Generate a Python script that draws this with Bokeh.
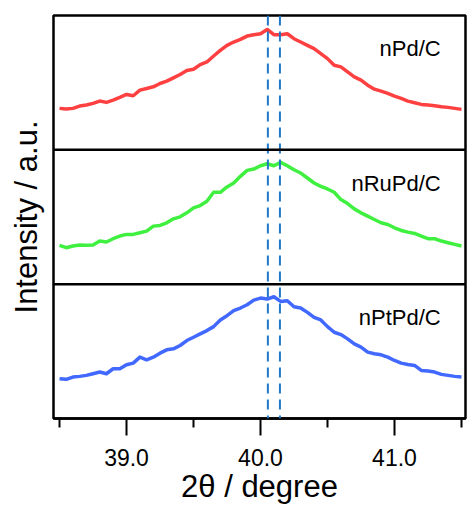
import numpy as np
from bokeh.plotting import figure
from bokeh.models import Range1d, FixedTicker, Span, PrintfTickFormatter, ColumnDataSource
from bokeh.core.properties import value
from bokeh.embed import file_html
from bokeh.resources import INLINE

# ---- data ----
two_theta = [round(38.5 + 0.05 * i, 2) for i in range(61)]

npd_c = [125, 123, 125, 132, 135, 140, 147, 143, 150, 158,
         167, 163, 180, 185, 190, 200, 207, 217, 227, 239,
         243, 257, 265, 283, 300, 315, 325, 333, 343, 347,
         350, 363, 347, 347, 350, 335, 325, 315, 305, 290,
         275, 255, 250, 235, 220, 210, 195, 183, 177, 170,
         162, 155, 147, 142, 137, 135, 133, 130, 128, 125, 122]

nrupd_c = [117, 110, 115, 118, 117, 118, 130, 127, 137, 145,
           150, 150, 155, 160, 175, 177, 185, 197, 203, 215,
           230, 237, 250, 277, 277, 293, 305, 325, 343, 347,
           357, 363, 357, 367, 357, 345, 335, 320, 305, 295,
           287, 277, 255, 243, 227, 215, 205, 195, 185, 180,
           170, 162, 157, 153, 145, 137, 137, 130, 125, 120, 115]

nptpd_c = [120, 118, 125, 127, 130, 135, 140, 135, 150, 150,
           162, 167, 185, 177, 185, 197, 207, 210, 220, 235,
           245, 255, 265, 277, 297, 310, 325, 333, 343, 357,
           363, 360, 367, 353, 355, 337, 333, 320, 305, 297,
           277, 260, 253, 240, 225, 215, 200, 195, 192, 185,
           175, 167, 163, 160, 145, 143, 140, 133, 130, 127, 125]

series_names = ["nPd/C", "nRuPd/C", "nPtPd/C"]
series_values = [npd_c, nrupd_c, nptpd_c]
series_colors = ["#ff4040", "#40f040", "#4169ff"]
peak_positions = [40.055, 40.145]
major_ticks = [39.0, 40.0, 41.0]
minor_ticks = [38.5, 39.5, 40.5, 41.5]

PANEL = 405.0
FONT = "Liberation Sans"

p = figure(width=467, height=506, output_backend="svg", toolbar_location=None,
           x_range=Range1d(38.455, 41.53), y_range=Range1d(0, 3 * PANEL),
           min_border_left=53, min_border_right=2, min_border_top=15, min_border_bottom=10)
p.xgrid.visible = False
p.ygrid.visible = False
p.outline_line_color = "black"
p.outline_line_width = 2.5
p.background_fill_color = "white"
p.border_fill_color = "white"

for pos in peak_positions:
    p.add_layout(Span(location=pos, dimension="height", line_color="#1f78c8",
                      line_width=2, line_dash="10 6"))

for k in (1, 2):
    p.add_layout(Span(location=k * PANEL, dimension="width", line_color="black",
                      line_width=2.5))

n = len(series_values)
for i, (name, vals, col) in enumerate(zip(series_names, series_values, series_colors)):
    off = (n - 1 - i) * PANEL
    src = ColumnDataSource(dict(x=two_theta, y=[v + off for v in vals]))
    p.line("x", "y", source=src, line_color=col, line_width=3.5, line_join="round")
    p.text(x=[41.345], y=[off + PANEL - 100], text=[name], text_align="right",
           text_baseline="alphabetic", text_font=value(FONT), text_font_size="22px",
           text_color="black")

xa = p.xaxis[0]
xa.ticker = FixedTicker(ticks=major_ticks, minor_ticks=minor_ticks)
xa.formatter = PrintfTickFormatter(format="%.1f")
xa.axis_line_color = "black"
xa.axis_line_width = 2.5
xa.major_tick_in = 0
xa.major_tick_out = 17
xa.minor_tick_in = 0
xa.minor_tick_out = 9
xa.major_tick_line_width = 2
xa.minor_tick_line_width = 2
xa.major_tick_line_color = "black"
xa.minor_tick_line_color = "black"
xa.major_label_text_font = FONT
xa.major_label_text_font_size = "23px"
xa.major_label_text_color = "black"
xa.major_label_standoff = 13
xa.axis_label = "2θ / degree"
xa.axis_label_text_font = FONT
xa.axis_label_text_font_size = "31px"
xa.axis_label_text_font_style = "normal"
xa.axis_label_text_color = "black"
xa.axis_label_standoff = 0

ya = p.yaxis[0]
ya.ticker = FixedTicker(ticks=[])
ya.axis_line_color = None
ya.major_tick_line_color = None
ya.minor_tick_line_color = None
ya.axis_label = "Intensity / a.u."
ya.axis_label_text_font = FONT
ya.axis_label_text_font_size = "31px"
ya.axis_label_text_font_style = "normal"
ya.axis_label_text_color = "black"
ya.axis_label_standoff = 10

open("out.html", "w").write(file_html(p, INLINE))
